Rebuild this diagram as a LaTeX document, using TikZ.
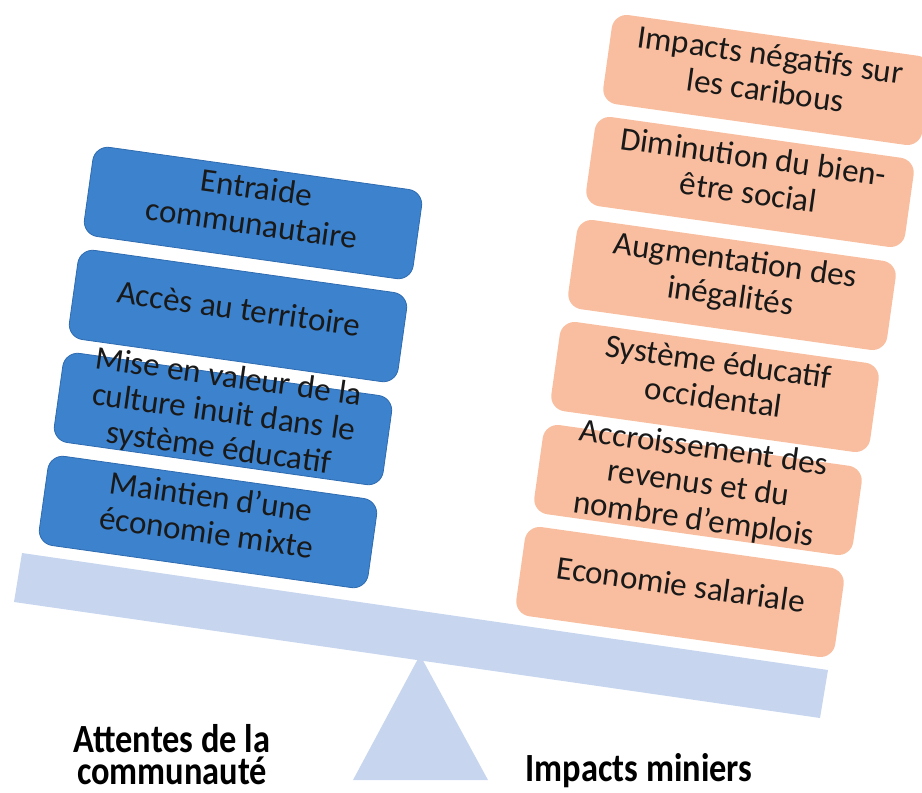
\documentclass[tikz,border=0pt]{standalone}
\usepackage{fontspec}
\setmainfont{Carlito}

\def\tilt{-8}
\def\beamshape{(22,553) -- (828,670) -- (820,718) -- (14,602) -- cycle}
\def\pivotshape{(420,655) -- (488,780) -- (353,780) -- cycle}
\def\boxlines#1{\raisebox{-2.5pt}[0pt][0pt]{\begin{tabular}{@{}c@{}}#1\end{tabular}}}
\definecolor{expect fill}{HTML}{3C82CD}
\definecolor{expect edge}{HTML}{2E6BB0}
\definecolor{impact fill}{HTML}{F8BE9F}
\definecolor{scale arm}{HTML}{C7D6EE}
\tikzset{
  card/.style={rounded corners=7.5pt, rotate=\tilt, inner sep=0pt, minimum height=45pt,
    text=black!90, font=\fontsize{16.5}{18}\selectfont},
  expectation/.style={card, fill=expect fill, draw=expect edge, minimum width=166pt},
  impact/.style={card, fill=impact fill, minimum width=161pt}
  }
\tikzstyle{caption}=[font=\bfseries\fontsize{20}{16}\selectfont, align=center, inner sep=0pt, xscale=0.86]

\begin{document}
\begin{tikzpicture}[x=0.5pt, y=-0.5pt]
   \useasboundingbox (0,0) rectangle (922,793);

   % the balance
   \fill[scale arm] \pivotshape;
   \fill[scale arm] \beamshape;

   % left pan
   \node[expectation] (entraide) at (253,213) {\boxlines{Entraide\\communautaire}};
   \node[expectation] (territoire) at (238,316) {\boxlines{Accès au territoire}};
   \node[expectation] (culture) at (223,419) {\boxlines{Mise en valeur de la\\culture inuit dans le\\système éducatif}};
   \node[expectation] (mixte) at (208,522) {\boxlines{Maintien d’une\\économie mixte}};

   % right pan
   \node[impact] (caribous) at (767,80) {\boxlines{Impacts négatifs sur\\les caribous}};
   \node[impact] (bienetre) at (750,182) {\boxlines{Diminution du bien-\\être social}};
   \node[impact] (inegalites) at (732,285) {\boxlines{Augmentation des\\inégalités}};
   \node[impact] (educatif) at (715,387) {\boxlines{Système éducatif\\occidental}};
   \node[impact] (revenus) at (698,490) {\boxlines{Accroissement des\\revenus et du\\nombre d’emplois}};
   \node[impact] (salariale) at (680,592) {\boxlines{Economie salariale}};

   \node[caption, anchor=south] (attentes) at (172,785) {Attentes de la\\communauté};
   \node[caption, anchor=base] (miniers) at (639,781) {Impacts miniers};
\end{tikzpicture}
\end{document}
